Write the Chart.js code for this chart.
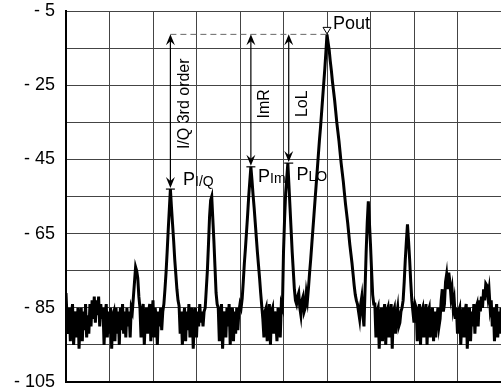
<!DOCTYPE html>
<html>
<head>
<meta charset="utf-8">
<script src="https://cdn.jsdelivr.net/npm/chart.js@4/dist/chart.umd.min.js"></script>
<style>
  html, body { margin: 0; padding: 0; background: #fff; }
  #wrap { width: 501px; height: 390px; }
</style>
</head>
<body>
<div id="wrap"><canvas id="chart" width="501" height="390"></canvas></div>
<script>
// sweep points, 0.25 x-units apart (10 units per division)
const sweepStep = 0.25;
const traceLevels = [
  // floor, left edge
  -81, -88, -92, -85, -94, -87, -84, -95, -89, -86,
  -93, -85, -96, -88, -85, -94, -86, -91, -84, -93,
  -87, -92, -84, -90, -83, -88, -82, -89, -83, -87,
  -82, -90, -84, -88, -85, -95, -87, -84, -93, -86,
  -92, -85, -96, -87, -86, -94, -85, -92, -86, -95,
  -85, -91, -84, -92, -86, -93, -85, -90, -86, -93,
  -85,
  // small spur
  -86, -82, -78, -74, -75, -77, -82,
  -85, -93, -86, -84, -95, -88, -85, -92, -86, -84, -94, -87, -83, -93, -85, -88, -95, -86, -90, -85, -91,
  // P I/Q
  -86, -84, -80, -75.5, -70, -64, -58.5, -53, -58, -62.5, -67, -72, -76, -80, -83, -84.5,
  -92, -86, -95, -88, -85, -94, -86, -91, -84, -93, -87, -85, -96, -88, -85, -93, -86, -90, -84, -89,
  // second I/Q product
  -86, -90, -86, -85, -80, -75, -68, -60.5, -56, -55, -61, -67, -74, -81, -84,
  -85, -94, -87, -84, -96, -88, -86, -93, -85, -90, -84, -95, -87, -85, -94, -86, -92, -85, -91, -86, -84,
  // P Im
  -85, -82.5, -78, -73, -69, -64.5, -60, -55, -51, -47, -50.5, -54.5, -58, -62, -66, -70, -73.5, -77, -81, -84.5,
  -88, -93, -86, -85, -94, -88, -84, -95, -86, -85, -92, -86, -89, -94, -85, -88, -93, -84,
  // P LO
  -85, -70, -61, -54, -50, -46, -52, -58, -64, -70, -75, -80, -83,
  -84, -82, -81, -85, -87, -83, -82, -86, -85, -81, -83,
  // Pout
  -79.5, -75.5, -72, -68, -64, -60, -56, -52, -48, -44, -40, -36.5, -32.5, -28.5, -24.5, -20.5, -16, -11.3,
  -13.5, -15.5, -18.5, -21, -24, -26.5, -29, -32, -35, -37.5, -40, -43, -46, -48.5,
  -51, -54, -57, -59.5, -62, -65, -68, -70.5, -73, -76, -79, -81.5, -83, -84,
  -86, -88, -84, -82, -87, -90, -80,
  // image
  -70, -62, -56.3, -62, -68, -75, -81.5, -84,
  -84, -93, -86, -85, -96, -88, -85, -94, -87, -84, -95, -86, -85, -93, -88, -84, -96, -86, -85, -92, -87, -85, -90,
  -89, -86, -85, -83, -78, -72, -67, -62.5, -67, -72, -78, -83, -86,
  -89, -84, -85, -94, -87, -84, -95, -86, -85, -93, -88, -84, -95, -86, -85, -93, -87, -85, -94, -86, -93,
  -88, -85, -90, -88, -83, -80, -86, -84, -78, -76, -80, -75.5, -78, -82, -80, -85, -83, -88, -85, -92,
  -86, -85, -95, -88, -85, -93, -86, -84, -96, -87, -85, -94, -86, -90, -84, -92, -85, -84,
  -90, -83, -86, -82, -85, -80, -83, -78.5, -79, -82, -80, -85, -83, -90,
  -85, -94, -87, -84, -93, -86, -92, -85
];
const yTickLabels = [-5, -25, -45, -65, -85, -105];

// measured tones
const poutX = 60;
const poutLevel = -11.3;
const toneX = [24, 42.5, 51.2];
const toneLevel = [-53, -47, -46];
const toneSub = ['I/Q', 'Im', 'LO'];
const arrowText = ['I/Q 3rd order', 'ImR', 'LoL'];

const points = traceLevels.map((v, i) => ({ x: i * sweepStep, y: v }));

const FONT = '"Liberation Sans", Arial, sans-serif';

function arrowHead(ctx, x, y, dir) {
  // dir = 1 pointing down, -1 pointing up
  ctx.beginPath();
  ctx.moveTo(x, y);
  ctx.lineTo(x - 4.5, y - dir * 11);
  ctx.lineTo(x, y - dir * 7);
  ctx.lineTo(x + 4.5, y - dir * 11);
  ctx.closePath();
  ctx.fill();
}

const markers = {
  id: 'markers',
  afterDatasetsDraw(chart) {
    const ctx = chart.ctx;
    const xs = chart.scales.x, ys = chart.scales.y;
    const yRef = ys.getPixelForValue(poutLevel);
    const xp = xs.getPixelForValue(poutX);
    ctx.save();

    // reference level
    ctx.strokeStyle = '#666';
    ctx.lineWidth = 1;
    ctx.setLineDash([6, 4]);
    ctx.beginPath();
    ctx.moveTo(xs.getPixelForValue(toneX[0]), yRef);
    ctx.lineTo(xp, yRef);
    ctx.stroke();
    ctx.setLineDash([]);

    // Pout marker
    ctx.fillStyle = '#fff';
    ctx.strokeStyle = '#000';
    ctx.beginPath();
    ctx.moveTo(xp, yRef - 0.5);
    ctx.lineTo(xp - 4, yRef - 7);
    ctx.lineTo(xp + 4, yRef - 7);
    ctx.closePath();
    ctx.fill();
    ctx.stroke();

    ctx.fillStyle = '#000';
    ctx.font = '18px ' + FONT;
    ctx.textBaseline = 'alphabetic';
    ctx.textAlign = 'left';
    ctx.fillText('Pout', xp + 6, yRef - 5);

    toneX.forEach((tx, i) => {
      const x = xs.getPixelForValue(tx);
      const yb = ys.getPixelForValue(toneLevel[i]);
      ctx.strokeStyle = '#000';
      ctx.fillStyle = '#000';
      ctx.lineWidth = 1.2;
      ctx.beginPath();
      ctx.moveTo(x, yRef + 4);
      ctx.lineTo(x, yb - 5);
      ctx.stroke();
      arrowHead(ctx, x, yRef, -1);
      arrowHead(ctx, x, yb - 1, 1);
      ctx.beginPath();
      ctx.moveTo(x - 4.5, yb);
      ctx.lineTo(x + 4.5, yb);
      ctx.stroke();

      // rotated measurement label
      ctx.save();
      ctx.translate(x + 14, ys.getPixelForValue(-30));
      ctx.rotate(-Math.PI / 2);
      ctx.font = '16px ' + FONT;
      ctx.textAlign = 'center';
      ctx.textBaseline = 'middle';
      ctx.fillText(arrowText[i], 0, 0);
      ctx.restore();
    });

    // P labels with subscripts
    const pPos = [[183, 185], [258, 182], [296.5, 180]];
    pPos.forEach((p, i) => {
      ctx.font = '18px ' + FONT;
      ctx.textAlign = 'left';
      ctx.fillText('P', p[0], p[1]);
      const w = ctx.measureText('P').width;
      ctx.font = '14px ' + FONT;
      ctx.fillText(toneSub[i], p[0] + w, p[1] + 1);
    });

    ctx.restore();
  }
};

new Chart(document.getElementById('chart'), {
  type: 'line',
  data: {
    datasets: [{
      data: points,
      borderColor: '#000',
      borderWidth: 3,
      pointRadius: 0,
      tension: 0,
      fill: false
    }]
  },
  options: {
    responsive: false,
    animation: false,
    layout: { padding: { top: 11, right: 0, bottom: 8, left: 0 } },
    plugins: { legend: { display: false }, tooltip: { enabled: false } },
    scales: {
      x: {
        type: 'linear',
        min: 0,
        max: 100,
        ticks: { display: false, stepSize: 10 },
        grid: { color: '#444', lineWidth: 1, drawTicks: false },
        border: { color: '#000', width: 2 },
        afterFit: s => { s.height = 0; s.paddingLeft = 0; s.paddingRight = 0; }
      },
      y: {
        min: -105,
        max: -5,
        ticks: {
          stepSize: 10,
          padding: 11,
          color: '#000',
          font: { family: FONT, size: 18 },
          callback: v => yTickLabels.includes(v) ? '- ' + Math.abs(v) : ''
        },
        grid: { color: '#444', lineWidth: 1, drawTicks: false },
        border: { color: '#000', width: 2 },
        afterFit: s => { s.width = 66; s.paddingTop = 0; s.paddingBottom = 0; }
      }
    }
  },
  plugins: [markers]
});
</script>
</body>
</html>
